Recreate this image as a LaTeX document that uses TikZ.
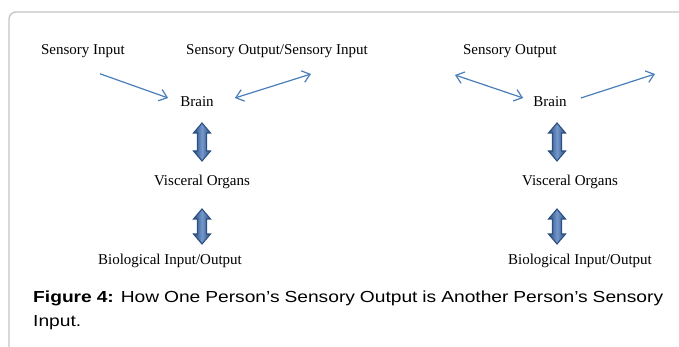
\documentclass[tikz,border=0pt]{standalone}
\usepackage{fontspec}
\setmainfont{Liberation Serif}
\newfontfamily\captionfont[FakeStretch=1.2]{Liberation Sans}
\usetikzlibrary{arrows.meta}
\definecolor{linkblue}{HTML}{4A7EBB}
\definecolor{blockdark}{HTML}{2B4F80}
\definecolor{blocklight}{HTML}{7397CC}
\definecolor{framegray}{HTML}{C4C4C4}
% block up/down arrow: centre x, top y, bottom y
\newcommand\bodyarrow[3]{%
  \shade[block] (#1,#2) -- (#1+8.5,#2+10) -- (#1+4.5,#2+10) -- (#1+4.5,#3-10)
    -- (#1+8.5,#3-10) -- (#1,#3) -- (#1-8.5,#3-10) -- (#1-4.5,#3-10)
    -- (#1-4.5,#2+10) -- (#1-8.5,#2+10) -- cycle;}
\begin{document}
\begin{tikzpicture}[x=1pt, y=-1pt,
  main/.style = {font=\fontsize{15}{18}\selectfont, inner sep=0pt},
  link/.style = {draw=linkblue, line width=1.2pt, -{Straight Barb[length=7.5pt,width=12pt]}},
  both/.style = {link, {Straight Barb[length=7.5pt,width=12pt]}-{Straight Barb[length=7.5pt,width=12pt]}},
  block/.style = {draw=blockdark, line width=1.1pt, left color=blockdark,
    right color=blockdark, middle color=blocklight}]
\useasboundingbox (0,0) rectangle (679,347);
\draw[framegray, line width=1.3pt, rounded corners=7pt] (9,347) -- (9,12) -- (679,12);

% first person
\node[main] (in1) at (83,51) {Sensory Input};
\node[main] (so1) at (277,51) {Sensory Output/Sensory Input};
\node[main] (brain1) at (197,102) {Brain};
\node[main] (org1) at (202,182) {Visceral Organs};
\node[main] (bio1) at (170,261) {Biological Input/Output};
\bodyarrow{202}{123}{161}
\bodyarrow{202}{209}{244}
\coordinate (free1) at (311,74);

% second person
\node[main] (so2) at (510,51) {Sensory Output};
\node[main] (brain2) at (550,102) {Brain};
\node[main] (org2) at (570,182) {Visceral Organs};
\node[main] (bio2) at (580,261) {Biological Input/Output};
\bodyarrow{557}{123}{161}
\bodyarrow{557}{209}{244}
\coordinate (free2) at (455,75);
\coordinate (free3) at (655,74);

\draw[link] ([xshift=17pt,yshift=-16pt]in1.south) -- ([xshift=-12pt,yshift=4pt]brain1.west);
\draw[both] ([xshift=21pt,yshift=4pt]brain1.east) -- (free1);
\draw[both] (free2) -- ([xshift=-10pt,yshift=4pt]brain2.west);
\draw[link] ([xshift=14pt,yshift=4pt]brain2.east) -- (free3);

\node[anchor=north west, inner sep=0pt, text width=630pt, align=justify,
  font=\captionfont\fontsize{16}{24}\selectfont] (cap) at (33,291)
  {\textbf{Figure 4:} How One Person’s Sensory Output is Another Person’s Sensory\linebreak Input.};
\end{tikzpicture}
\end{document}
